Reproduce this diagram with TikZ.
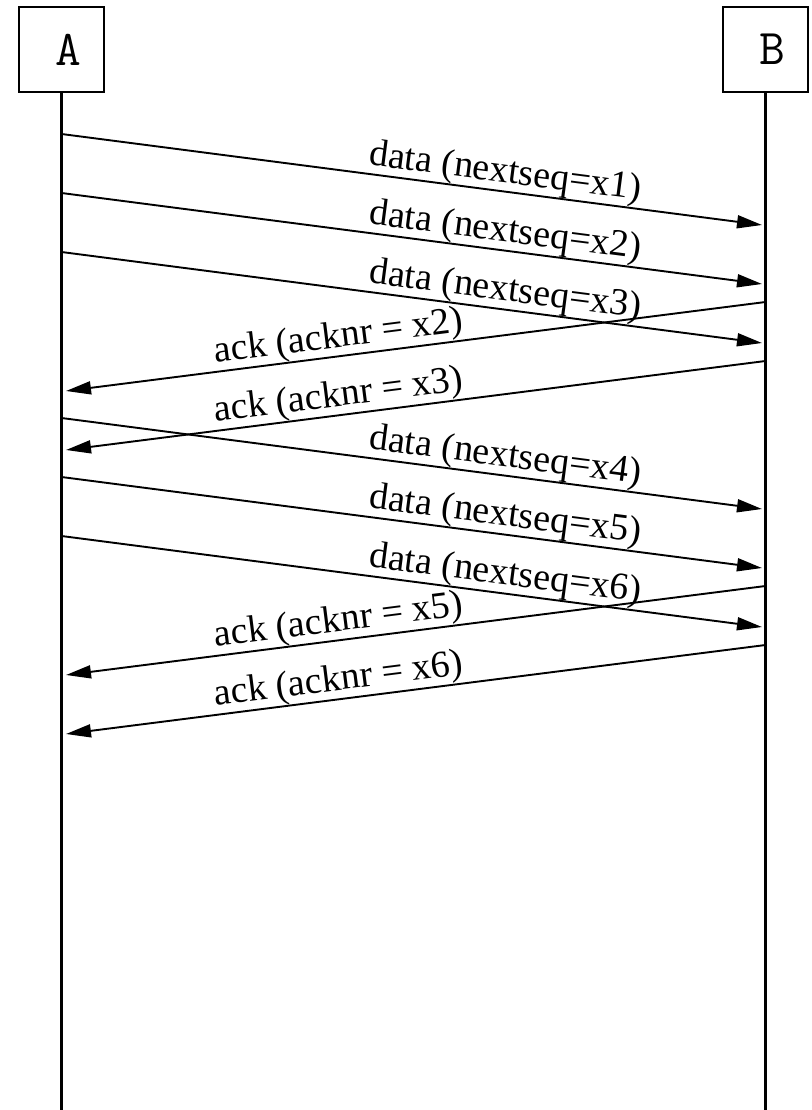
\documentclass[tikz,border=0pt]{standalone}
\usepackage{fontspec}
\setmainfont{Liberation Serif}
\usetikzlibrary{arrows.meta}
\begin{document}
\begin{tikzpicture}[x=1pt,y=-1pt,
  party/.style={draw, line width=2pt, minimum width=85pt, minimum height=85pt, inner sep=0pt,
    font=\ttfamily\fontsize{50}{54}\selectfont},
  life/.style={line width=2.5pt},
  msg/.style={line width=1.9pt, -{Triangle[length=25pt,width=13pt]}},
  lbl/.style={sloped, above, inner sep=0pt, font=\fontsize{38}{40}\selectfont}]
\useasboundingbox (0,0) rectangle (811,1110);
\node[party] (A) at (61.5,49.5) {\hspace*{13pt}A};
\node[party] (B) at (765.5,49.5) {\hspace*{13pt}B};
\coordinate (Aend) at (61.5,1110);
\coordinate (Bend) at (765.5,1110);
\draw[life] (A.south) -- (Aend);
\draw[life] (B.south) -- (Bend);
% data messages
\coordinate (d1s) at (61.5,134); \coordinate (d1e) at (762,225);
\coordinate (d2s) at (61.5,193); \coordinate (d2e) at (762,284);
\coordinate (d3s) at (61.5,252); \coordinate (d3e) at (762,343);
\coordinate (d4s) at (61.5,418); \coordinate (d4e) at (762,509);
\coordinate (d5s) at (61.5,477); \coordinate (d5e) at (762,568);
\coordinate (d6s) at (61.5,536); \coordinate (d6e) at (762,627);
% ack messages
\coordinate (k1s) at (765.5,302); \coordinate (k1e) at (66,391);
\coordinate (k2s) at (765.5,361); \coordinate (k2e) at (66,450);
\coordinate (k3s) at (765.5,586); \coordinate (k3e) at (66,675);
\coordinate (k4s) at (765.5,645); \coordinate (k4e) at (66,734);
\draw[msg] (d1s) -- node[lbl, pos=0.63] {data (nextseq=x1)} (d1e);
\draw[msg] (d2s) -- node[lbl, pos=0.63] {data (nextseq=x2)} (d2e);
\draw[msg] (d3s) -- node[lbl, pos=0.63] {data (nextseq=x3)} (d3e);
\draw[msg] (k1s) -- node[lbl, pos=0.607] {ack (acknr = x2)} (k1e);
\draw[msg] (k2s) -- node[lbl, pos=0.607] {ack (acknr = x3)} (k2e);
\draw[msg] (d4s) -- node[lbl, pos=0.63] {data (nextseq=x4)} (d4e);
\draw[msg] (d5s) -- node[lbl, pos=0.63] {data (nextseq=x5)} (d5e);
\draw[msg] (d6s) -- node[lbl, pos=0.63] {data (nextseq=x6)} (d6e);
\draw[msg] (k3s) -- node[lbl, pos=0.607] {ack (acknr = x5)} (k3e);
\draw[msg] (k4s) -- node[lbl, pos=0.607] {ack (acknr = x6)} (k4e);
\end{tikzpicture}
\end{document}
